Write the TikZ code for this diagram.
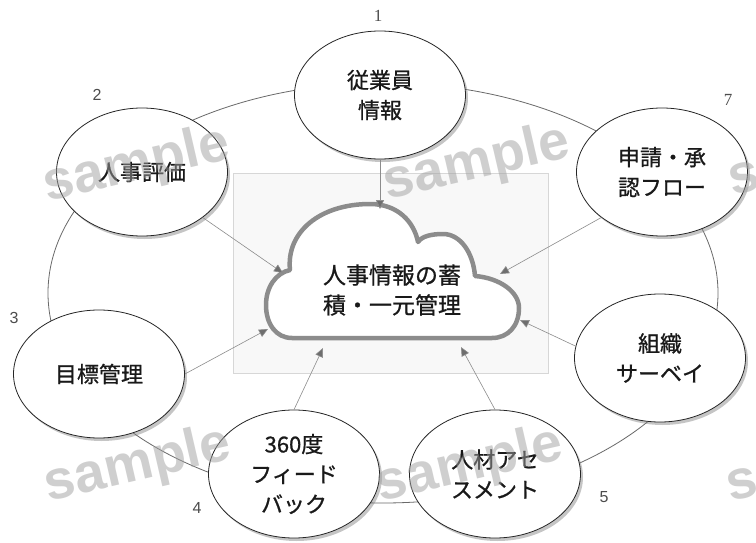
\documentclass[tikz,border=0pt]{standalone}
\usepackage{fontspec}
\setmainfont{Liberation Sans}
\newfontfamily\jp[FakeBold=0.8]{Noto Sans CJK JP}
\newfontfamily\serifnum{Liberation Serif}
\usetikzlibrary{shapes.geometric,shadows,arrows.meta}
\definecolor{ringc}{RGB}{105,105,105}
\definecolor{bgc}{RGB}{248,248,248}
\definecolor{bgline}{RGB}{215,215,215}
\definecolor{cloudc}{RGB}{140,140,140}
\definecolor{arrc}{RGB}{140,140,140}
\definecolor{headc}{RGB}{110,110,110}
\definecolor{wmc}{RGB}{160,160,160}
\tikzset{
  topic/.style={ellipse, draw=black!85, line width=0.8pt, fill=white,
    minimum width=171pt, minimum height=128pt, inner sep=0pt, align=center,
    font=\jp\fontsize{22}{30}\selectfont, text=black!90,
    drop shadow={shadow xshift=2.5pt, shadow yshift=-3pt, fill=black!50, opacity=0.45}},
  feed/.style={draw=arrc, line width=0.6pt, -{Triangle[length=9pt,width=8pt,fill=headc]}},
  numlbl/.style={text=black!70, font=\fontsize{16}{16}\selectfont, inner sep=0pt},
  wmark/.style={text=wmc, opacity=0.5, font=\fontsize{55}{55}\bfseries\selectfont, inner sep=0pt, rotate=13}
}
\begin{document}
\begin{tikzpicture}[x=1pt,y=-1pt]
\useasboundingbox (0,0) rectangle (756,543);
\clip (0,0) rectangle (756,543);
\fill[white] (0,0) rectangle (756,543);
% outer ring
\draw[ringc, line width=0.8pt] (383,293) ellipse [x radius=335pt, y radius=210pt];
% background panel
\filldraw[fill=bgc, draw=bgline, line width=0.5pt] (233,173) rectangle (548,373);
% cloud
\filldraw[draw=cloudc, fill=white, line width=4.5pt, line join=round]
  (292,338) .. controls (276,338) and (266,324) .. (266,305)
  .. controls (266,287) and (276,273) .. (290,270)
  .. controls (286,232) and (320,204) .. (370,204)
  .. controls (398,204) and (414,222) .. (418,242)
  .. controls (422,236) and (432,234) .. (443,234)
  .. controls (460,234) and (473,252) .. (475,276)
  .. controls (500,278) and (519,292) .. (519,308)
  .. controls (519,326) and (508,338) .. (492,338)
  -- cycle;
\node[align=center, font=\jp\fontsize{23}{30}\selectfont, text=black!90] (core) at (392,290)
  {人事情報の蓄\\積・一元管理};
% topic ellipses
\node[topic] (n1) at (380,95) {従業員\\情報};
\node[topic] (n2) at (142,172) {人事評価};
\node[topic] (n3) at (99,374) {目標管理};
\node[topic] (n4) at (294,474) {360度\\フィード\\バック};
\node[topic] (n5) at (495,474) {人材アセ\\スメント};
\node[topic] (n6) at (660,358) {組織\\サーベイ};
\node[topic] (n7) at (662,172) {申請・承\\認フロー};
% arrow tips on the cloud
\coordinate (t1) at (380,209);
\coordinate (t2) at (283,273);
\coordinate (t3) at (268,329);
\coordinate (t4) at (323,348);
\coordinate (t5) at (461,347);
\coordinate (t6) at (520,320);
\coordinate (t7) at (500,274);
\draw[feed] (n1.south) -- (t1);
\draw[feed] (n2.south east) -- (t2);
\draw[feed] (n3.east) -- (t3);
\draw[feed] (n4.north) -- (t4);
\draw[feed] (n5.north) -- (t5);
\draw[feed] (n6.172) -- (t6);
\draw[feed] (n7.south west) -- (t7);
% numbers
\node[numlbl, font=\serifnum\fontsize{17}{17}\selectfont] (k1) at (378,16) {1};
\node[numlbl] (k2) at (97,95) {2};
\node[numlbl] (k3) at (14,318) {3};
\node[numlbl] (k4) at (197,508) {4};
\node[numlbl] (k5) at (604,497) {5};
\node[numlbl] (k6) at (760,312) {6};
\node[numlbl, font=\serifnum\fontsize{17}{17}\selectfont] (k7) at (728,100) {7};
% watermarks
\node[wmark] (w1) at (137,166) {sample};
\node[wmark] (w2) at (477,164) {sample};
\node[wmark] (w3) at (822,160) {sample};
\node[wmark] (w4) at (138,466) {sample};
\node[wmark] (w5) at (470,466) {sample};
\node[wmark] (w6) at (820,466) {sample};
\end{tikzpicture}
\end{document}
